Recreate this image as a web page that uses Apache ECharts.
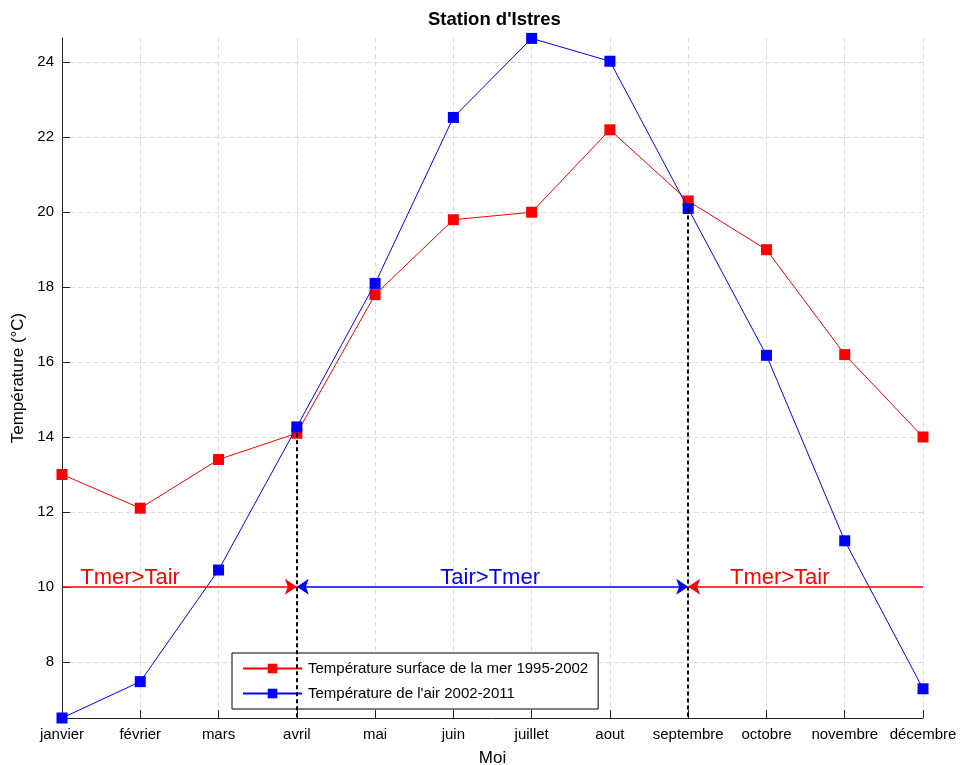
<!DOCTYPE html>
<html>
<head>
<meta charset="utf-8">
<script src="https://cdn.jsdelivr.net/npm/echarts@6/dist/echarts.min.js"></script>
<style>
  html, body { margin: 0; padding: 0; background: #fff; }
  #chart { width: 960px; height: 765px; }
</style>
</head>
<body>
<div id="chart"></div>
<script>
// Monthly mean temperatures at the Istres station
const months = ['janvier', 'février', 'mars', 'avril', 'mai', 'juin', 'juillet', 'aout', 'septembre', 'octobre', 'novembre', 'décembre'];
const seaTemp = [13.0, 12.1, 13.4, 14.1, 17.8, 19.8, 20.0, 22.2, 20.3, 19.0, 16.2, 14.0];
const airTemp = [6.5, 7.47, 10.45, 14.27, 18.1, 22.53, 24.64, 24.03, 20.1, 16.18, 11.23, 7.28];
const seaName = 'Température surface de la mer 1995-2002';
const airName = "Température de l'air 2002-2011";

// Crossing months and the reference level for the regime arrows
const crossMonths = ['avril', 'septembre'];
const crossValues = [14.1, 20.1];
const arrowLevel = 10;
const regimeLabels = ['Tmer>Tair', 'Tair>Tmer', 'Tmer>Tair'];

const FONT = "'Liberation Sans', Arial, sans-serif";
const RED = '#ff0000';
const BLUE = '#0000ff';

const chart = echarts.init(document.getElementById('chart'), null, { renderer: 'canvas' });

const yMin = 6.5, yMax = 24.65;

const option = {
  backgroundColor: '#fff',
  animation: false,
  textStyle: { fontFamily: FONT },
  title: {
    text: "Station d'Istres",
    left: 423, top: 5,
    textStyle: { fontFamily: FONT, fontWeight: 'bold', fontSize: 18.5, color: '#000' }
  },
  grid: { left: 62, right: 37, top: 38, bottom: 47, containLabel: false, outerBoundsMode: 'none' },
  legend: {
    data: [seaName, airName],
    orient: 'vertical',
    left: 232, top: 653,
    padding: [8, 10, 8, 10],
    itemGap: 10,
    itemWidth: 59, itemHeight: 12,
    backgroundColor: '#fff',
    borderColor: '#000', borderWidth: 1, borderRadius: 0,
    selectedMode: false,
    textStyle: { fontFamily: FONT, fontSize: 15, color: '#000', padding: [0, 0, 0, 1] }
  },
  xAxis: {
    type: 'category',
    data: months,
    boundaryGap: false,
    name: 'Moi',
    nameLocation: 'middle',
    nameGap: 32,
    nameTextStyle: { fontFamily: FONT, fontSize: 17, color: '#000' },
    axisLine: { lineStyle: { color: '#222', width: 1 } },
    axisTick: { inside: true, length: 8, alignWithLabel: true, lineStyle: { color: '#222' } },
    axisLabel: { fontFamily: FONT, fontSize: 15, color: '#000', margin: 9, interval: 0 },
    splitLine: { show: true, lineStyle: { color: '#dcdcdc', type: [5, 3], width: 1 } }
  },
  yAxis: {
    type: 'value',
    min: yMin, max: yMax,
    splitNumber: 9, minInterval: 2, maxInterval: 2,
    name: 'Température (°C)',
    nameLocation: 'middle',
    nameGap: 29,
    nameTextStyle: { fontFamily: FONT, fontSize: 17, color: '#000' },
    axisLine: { show: true, lineStyle: { color: '#222', width: 1 } },
    axisTick: { show: true, inside: true, length: 8, lineStyle: { color: '#222' } },
    axisLabel: { fontFamily: FONT, fontSize: 15, color: '#000', margin: 8, showMinLabel: false, showMaxLabel: false },
    splitLine: { show: true, showMinLine: false, showMaxLine: false, lineStyle: { color: '#dcdcdc', type: [5, 3], width: 1 } }
  },
  series: [
    {
      name: 'annotations',
      type: 'line',
      data: [],
      silent: true,
      z: 1,
      markLine: {
        silent: true,
        animation: false,
        symbolSize: 12,
        label: { show: false },
        data: [
          // Crossing months: dashed verticals down to the axis
          [
            { coord: [crossMonths[0], crossValues[0]], symbol: 'none', lineStyle: { color: '#000', type: [4, 3], width: 2 } },
            { coord: [crossMonths[0], yMin], symbol: 'none' }
          ],
          [
            { coord: [crossMonths[1], crossValues[1]], symbol: 'none', lineStyle: { color: '#000', type: [4, 3], width: 2 } },
            { coord: [crossMonths[1], yMin], symbol: 'none' }
          ],
          // Regime arrows at the reference level
          [
            { coord: [months[0], arrowLevel], symbol: 'none', lineStyle: { color: RED, type: 'solid', width: 1.5 } },
            { coord: [crossMonths[0], arrowLevel], symbol: 'arrow' }
          ],
          [
            { coord: [crossMonths[0], arrowLevel], symbol: 'arrow', lineStyle: { color: BLUE, type: 'solid', width: 1.5 } },
            { coord: [crossMonths[1], arrowLevel], symbol: 'arrow' }
          ],
          [
            { coord: [months[11], arrowLevel], symbol: 'none', lineStyle: { color: RED, type: 'solid', width: 1.5 } },
            { coord: [crossMonths[1], arrowLevel], symbol: 'arrow' }
          ]
        ]
      }
    },
    {
      name: seaName,
      type: 'line',
      data: seaTemp,
      symbol: 'rect',
      symbolSize: 11,
      z: 3,
      lineStyle: { color: RED, width: 1 },
      itemStyle: { color: RED }
    },
    {
      name: airName,
      type: 'line',
      data: airTemp,
      symbol: 'rect',
      symbolSize: 11,
      z: 4,
      lineStyle: { color: BLUE, width: 1 },
      itemStyle: { color: BLUE }
    }
  ]
};

chart.setOption(option);

// Regime labels above the arrows, placed along the category scale
function px(idx, val) {
  const i0 = Math.floor(idx), i1 = Math.min(i0 + 1, months.length - 1);
  const a = chart.convertToPixel({ gridIndex: 0 }, [months[i0], val]);
  const b = chart.convertToPixel({ gridIndex: 0 }, [months[i1], val]);
  const f = idx - i0;
  return [a[0] + (b[0] - a[0]) * f, a[1]];
}
const labelAt = [0.87, 5.47, 9.17];
const labelColors = [RED, BLUE, RED];
chart.setOption({
  graphic: regimeLabels.map((t, k) => {
    const p = px(labelAt[k], arrowLevel);
    return {
      type: 'text',
      x: p[0], y: p[1] - 9,
      z: 10,
      style: { text: t, fill: labelColors[k], font: '22px ' + FONT, textAlign: 'center', textVerticalAlign: 'middle' }
    };
  })
});
</script>
</body>
</html>
